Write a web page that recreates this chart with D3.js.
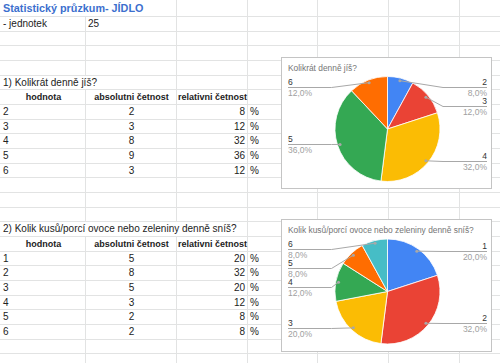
<!DOCTYPE html>
<html lang="cs">
<head>
<meta charset="UTF-8">
<title>Statistický průzkum- JÍDLO</title>
<script src="https://d3js.org/d3.v7.min.js"></script>
<style>
  body { margin: 0; background: #fff; }
  svg { display: block; font-family: "Liberation Sans", Arial, sans-serif; }
  .grid { stroke: #e2e3e3; stroke-width: 1; shape-rendering: crispEdges; }
  .cell { font-size: 10px; fill: #222; }
  .head { font-size: 9px; font-weight: bold; fill: #222; }
  .title { font-size: 10.8px; font-weight: bold; fill: #3c6fce; }
  .chart-box { fill: #fff; stroke: #c4c4c4; shape-rendering: crispEdges; }
  .chart-title { font-size: 8.4px; fill: #757575; }
  .lbl-name { font-size: 8.5px; fill: #333; }
  .lbl-pct { font-size: 8.5px; fill: #a0a0a0; }
  .leader { fill: none; stroke: #a8a8a8; stroke-width: 1; }
</style>
</head>
<body>
<svg id="sheet" width="500" height="363"></svg>
<script>
// data
const unitsCount = 25;

const q1Title = "1) Kolikrát denně jíš?";
const q1Chart = "Kolikrát denně jíš?";
const q1Values = [2, 3, 4, 5, 6];
const q1Abs = [2, 3, 8, 9, 3];
const q1Rel = [8, 12, 32, 36, 12];

const q2Title = "2) Kolik kusů/porcí ovoce nebo zeleniny denně sníš?";
const q2Chart = "Kolik kusů/porcí ovoce nebo zeleniny denně sníš?";
const q2Values = [1, 2, 3, 4, 5, 6];
const q2Abs = [5, 8, 5, 3, 2, 2];
const q2Rel = [20, 32, 20, 12, 8, 8];

const headers = ["hodnota", "absolutni četnost", "relativni četnost"];
const sliceColors = ["#4285f4", "#ea4335", "#fbbc04", "#34a853", "#ff6d01", "#46bdc6"];

const svg = d3.select('#sheet');

// grid geometry
const colEdges = [0, 85, 176, 247, 317, 388, 459, 530];
const ROW0 = 16, ROWH = 14.67, NROWS = 25;
const rowTop = r => r === 0 ? 0 : ROW0 + (r - 1) * ROWH;
const rowBase = r => r === 0 ? 12 : rowTop(r) + ROWH / 2 + 3.6;

// rows where long text overflows into next cells (hides vertical lines)
const hiddenLines = { 0: [85], 5: [85], 15: [85, 176] };

const gridG = svg.append('g');
for (let k = 0; k < NROWS; k++) {
    const y = Math.round(ROW0 + k * ROWH) + 0.5;
    gridG.append('line').attr('class', 'grid')
        .attr('x1', 0).attr('x2', 500).attr('y1', y).attr('y2', y);
}
for (let r = 0; r < NROWS; r++) {
    const y1 = Math.round(rowTop(r)), y2 = Math.round(rowTop(r + 1));
    colEdges.slice(1).forEach(x => {
        if ((hiddenLines[r] || []).includes(x)) return;
        gridG.append('line').attr('class', 'grid')
            .attr('x1', x + 0.5).attr('x2', x + 0.5).attr('y1', y1).attr('y2', y2);
    });
}

// cell texts
const txt = svg.append('g');
function cell(r, c, text, align, cls) {
    const x0 = colEdges[c], x1 = colEdges[c + 1];
    let x = x0 + 3, anchor = 'start';
    if (align === 'center') { x = (x0 + x1) / 2 + 1; anchor = 'middle'; }
    if (align === 'right') { x = x1 - 2; anchor = 'end'; }
    txt.append('text').attr('class', cls || 'cell')
        .attr('x', x).attr('y', rowBase(r))
        .attr('text-anchor', anchor).text(text);
}

cell(0, 0, "Statistický průzkum- JÍDLO", 'left', 'title');
cell(1, 0, "- jednotek");
cell(1, 1, unitsCount);

function table(startRow, title, values, abs, rel) {
    cell(startRow, 0, title);
    headers.forEach((h, i) => cell(startRow + 1, i, h, 'center', 'head'));
    values.forEach((v, i) => {
        const r = startRow + 2 + i;
        cell(r, 0, v);
        cell(r, 1, abs[i], 'center');
        cell(r, 2, rel[i], 'right');
        cell(r, 3, "%");
    });
}
table(5, q1Title, q1Values, q1Abs, q1Rel);
table(15, q2Title, q2Values, q2Abs, q2Rel);

// pie charts
const fmtPct = v => d3.format('.1f')(v).replace('.', ',') + '%';

function pieChart(box, title, labels, values) {
    const g = svg.append('g');
    g.append('rect').attr('class', 'chart-box')
        .attr('x', box.x + 0.5).attr('y', box.y + 0.5)
        .attr('width', box.w).attr('height', box.h);
    g.append('text').attr('class', 'chart-title')
        .attr('x', box.x + 7).attr('y', box.y + 13.5).text(title);

    const cx = box.x + 106.5, cy = box.y + box.h / 2 + 6.5, R = 52.5;
    const total = d3.sum(values);
    const arcs = d3.pie().sort(null).value(d => d)(values);
    const arc = d3.arc().innerRadius(0).outerRadius(R);

    g.append('g').attr('transform', `translate(${cx},${cy})`)
        .selectAll('path').data(arcs).enter().append('path')
        .attr('d', arc)
        .attr('fill', (d, i) => sliceColors[i])
        .attr('stroke', '#fff').attr('stroke-width', 0.8);

    // label placement: push labels down on each side so they don't collide
    const items = arcs.map((a, i) => {
        const mid = (a.startAngle + a.endAngle) / 2;
        return {
            name: labels[i],
            pct: values[i] / total * 100,
            dx: cx + Math.sin(mid) * R * 0.95,
            dy: cy - Math.cos(mid) * R * 0.95,
            right: mid < Math.PI
        };
    });
    const topBound = box.y + 29.5, gap = 19;
    [true, false].forEach(side => {
        const list = items.filter(d => d.right === side).sort((a, b) => a.dy - b.dy);
        let prev = -Infinity;
        list.forEach(d => {
            d.ly = Math.max(d.dy, prev + gap, topBound);
            prev = d.ly;
        });
    });

    items.forEach(d => {
        const ly = Math.round(d.ly) + 0.5;
        const elbowX = d.right ? cx + 55.5 : cx - 56;
        const endX = d.right ? box.x + box.w - 4 : box.x + 7;
        g.append('path').attr('class', 'leader')
            .attr('d', `M${d.dx},${d.dy}L${elbowX},${ly}L${endX},${ly}`);
        g.append('circle').attr('cx', d.dx).attr('cy', d.dy).attr('r', 1.5)
            .attr('fill', '#a8a8a8');
        const anchor = d.right ? 'end' : 'start';
        g.append('text').attr('class', 'lbl-name')
            .attr('x', endX).attr('y', ly - 3)
            .attr('text-anchor', anchor).text(d.name);
        g.append('text').attr('class', 'lbl-pct')
            .attr('x', endX).attr('y', ly + 8.5)
            .attr('text-anchor', anchor).text(fmtPct(d.pct));
    });
}

pieChart({ x: 281, y: 57, w: 210, h: 131 }, q1Chart, q1Values, q1Abs);
pieChart({ x: 281, y: 219, w: 210, h: 132 }, q2Chart, q2Values, q2Abs);
</script>
</body>
</html>
